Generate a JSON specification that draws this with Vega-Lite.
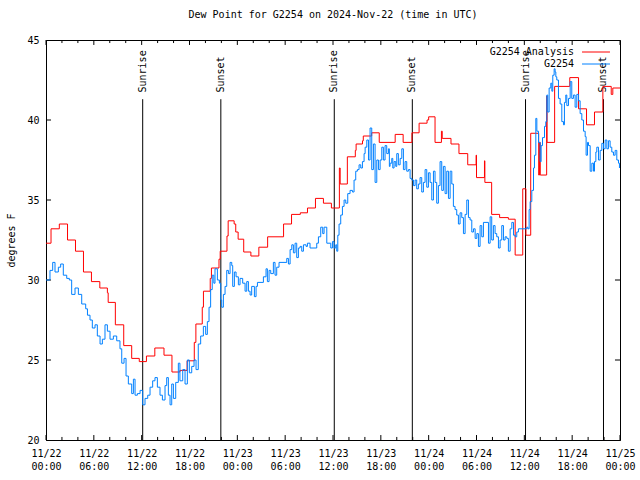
{
  "$schema": "https://vega.github.io/schema/vega-lite/v6.json",
  "width": 574,
  "height": 400,
  "autosize": {"type": "none"},
  "padding": {"left": 46, "top": 40, "right": 20, "bottom": 40},
  "background": "white",
  "title": {"text": "Dew Point for G2254 on 2024-Nov-22 (time in UTC)", "font": "DejaVu Sans Mono", "fontSize": 10, "fontWeight": "normal", "color": "black", "offset": 15},
  "config": {
    "view": {"stroke": "black", "strokeWidth": 1},
    "font": "DejaVu Sans Mono"
  },
  "datasets": {
    "dew": [
      {"series":"G2254 Analysis","hour":0,"value":32.3},
      {"series":"G2254 Analysis","hour":0.63,"value":33.2},
      {"series":"G2254 Analysis","hour":1.67,"value":33.5},
      {"series":"G2254 Analysis","hour":2.7,"value":32.5},
      {"series":"G2254 Analysis","hour":3.7,"value":31.8},
      {"series":"G2254 Analysis","hour":4.7,"value":30.5},
      {"series":"G2254 Analysis","hour":5.7,"value":29.9},
      {"series":"G2254 Analysis","hour":6.75,"value":29.5},
      {"series":"G2254 Analysis","hour":7.7,"value":29.2},
      {"series":"G2254 Analysis","hour":7.8,"value":28.6},
      {"series":"G2254 Analysis","hour":8.7,"value":27.2},
      {"series":"G2254 Analysis","hour":9.75,"value":25.9},
      {"series":"G2254 Analysis","hour":10.75,"value":25.1},
      {"series":"G2254 Analysis","hour":11.7,"value":24.9},
      {"series":"G2254 Analysis","hour":12.6,"value":25.25},
      {"series":"G2254 Analysis","hour":13.65,"value":25.75},
      {"series":"G2254 Analysis","hour":14.8,"value":25.3},
      {"series":"G2254 Analysis","hour":15.8,"value":24.25},
      {"series":"G2254 Analysis","hour":16.8,"value":24.35},
      {"series":"G2254 Analysis","hour":17.7,"value":24.95},
      {"series":"G2254 Analysis","hour":18.6,"value":26.1},
      {"series":"G2254 Analysis","hour":18.8,"value":27.25},
      {"series":"G2254 Analysis","hour":19.6,"value":28.3},
      {"series":"G2254 Analysis","hour":19.75,"value":29.3},
      {"series":"G2254 Analysis","hour":20.6,"value":30.1},
      {"series":"G2254 Analysis","hour":20.75,"value":30.75},
      {"series":"G2254 Analysis","hour":21.7,"value":31.3},
      {"series":"G2254 Analysis","hour":21.85,"value":31.8},
      {"series":"G2254 Analysis","hour":22.7,"value":32.75},
      {"series":"G2254 Analysis","hour":22.85,"value":33.7},
      {"series":"G2254 Analysis","hour":23.6,"value":33.5},
      {"series":"G2254 Analysis","hour":23.8,"value":33.0},
      {"series":"G2254 Analysis","hour":24.1,"value":32.55},
      {"series":"G2254 Analysis","hour":24.8,"value":31.75},
      {"series":"G2254 Analysis","hour":25.7,"value":31.5},
      {"series":"G2254 Analysis","hour":26.7,"value":32.05},
      {"series":"G2254 Analysis","hour":27.8,"value":32.7},
      {"series":"G2254 Analysis","hour":29.8,"value":33.5},
      {"series":"G2254 Analysis","hour":30.8,"value":34.1},
      {"series":"G2254 Analysis","hour":31.9,"value":34.2},
      {"series":"G2254 Analysis","hour":32.8,"value":34.5},
      {"series":"G2254 Analysis","hour":33.8,"value":35.1},
      {"series":"G2254 Analysis","hour":34.8,"value":34.8},
      {"series":"G2254 Analysis","hour":35.8,"value":34.5},
      {"series":"G2254 Analysis","hour":36.8,"value":37.0},
      {"series":"G2254 Analysis","hour":36.9,"value":36.0},
      {"series":"G2254 Analysis","hour":37.8,"value":37.7},
      {"series":"G2254 Analysis","hour":38.8,"value":38.1},
      {"series":"G2254 Analysis","hour":38.9,"value":38.5},
      {"series":"G2254 Analysis","hour":39.7,"value":38.7},
      {"series":"G2254 Analysis","hour":39.8,"value":39.0},
      {"series":"G2254 Analysis","hour":40.85,"value":39.2},
      {"series":"G2254 Analysis","hour":41.8,"value":38.6},
      {"series":"G2254 Analysis","hour":43.8,"value":39.1},
      {"series":"G2254 Analysis","hour":44.8,"value":38.6},
      {"series":"G2254 Analysis","hour":45.9,"value":39.2},
      {"series":"G2254 Analysis","hour":46.8,"value":39.8},
      {"series":"G2254 Analysis","hour":47.8,"value":40.0},
      {"series":"G2254 Analysis","hour":48.0,"value":40.2},
      {"series":"G2254 Analysis","hour":48.8,"value":38.6},
      {"series":"G2254 Analysis","hour":49.6,"value":39.3},
      {"series":"G2254 Analysis","hour":49.7,"value":38.85},
      {"series":"G2254 Analysis","hour":50.8,"value":38.5},
      {"series":"G2254 Analysis","hour":51.8,"value":37.9},
      {"series":"G2254 Analysis","hour":52.9,"value":37.2},
      {"series":"G2254 Analysis","hour":53.95,"value":37.8},
      {"series":"G2254 Analysis","hour":54.0,"value":36.4},
      {"series":"G2254 Analysis","hour":55.0,"value":37.45},
      {"series":"G2254 Analysis","hour":55.05,"value":36.1},
      {"series":"G2254 Analysis","hour":55.9,"value":34.1},
      {"series":"G2254 Analysis","hour":56.9,"value":33.9},
      {"series":"G2254 Analysis","hour":58.0,"value":33.8},
      {"series":"G2254 Analysis","hour":58.85,"value":31.56},
      {"series":"G2254 Analysis","hour":59.8,"value":35.7},
      {"series":"G2254 Analysis","hour":60.2,"value":32.8},
      {"series":"G2254 Analysis","hour":60.8,"value":39.17},
      {"series":"G2254 Analysis","hour":61.8,"value":36.56},
      {"series":"G2254 Analysis","hour":61.9,"value":38.6},
      {"series":"G2254 Analysis","hour":62.0,"value":36.56},
      {"series":"G2254 Analysis","hour":62.8,"value":41.5},
      {"series":"G2254 Analysis","hour":62.85,"value":38.6},
      {"series":"G2254 Analysis","hour":63.8,"value":42.1},
      {"series":"G2254 Analysis","hour":65.7,"value":42.65},
      {"series":"G2254 Analysis","hour":66.8,"value":40.7},
      {"series":"G2254 Analysis","hour":67.8,"value":39.7},
      {"series":"G2254 Analysis","hour":68.8,"value":40.5},
      {"series":"G2254 Analysis","hour":69.85,"value":42.1},
      {"series":"G2254 Analysis","hour":70.9,"value":41.6},
      {"series":"G2254 Analysis","hour":71.1,"value":42.0},
      {"series":"G2254 Analysis","hour":72,"value":42.0},
      {"series":"G2254","hour":0.0,"value":30.0},
      {"series":"G2254","hour":0.5,"value":30.6},
      {"series":"G2254","hour":0.84,"value":31.1},
      {"series":"G2254","hour":1.13,"value":30.5},
      {"series":"G2254","hour":1.55,"value":30.8},
      {"series":"G2254","hour":1.84,"value":31.0},
      {"series":"G2254","hour":2.17,"value":30.3},
      {"series":"G2254","hour":2.6,"value":30.1},
      {"series":"G2254","hour":2.93,"value":30.0},
      {"series":"G2254","hour":3.22,"value":29.1},
      {"series":"G2254","hour":3.64,"value":29.5},
      {"series":"G2254","hour":4.06,"value":29.1},
      {"series":"G2254","hour":4.48,"value":28.5},
      {"series":"G2254","hour":4.98,"value":28.2},
      {"series":"G2254","hour":5.2,"value":27.8},
      {"series":"G2254","hour":5.52,"value":27.5},
      {"series":"G2254","hour":5.81,"value":27.0},
      {"series":"G2254","hour":6.15,"value":27.2},
      {"series":"G2254","hour":6.44,"value":26.5},
      {"series":"G2254","hour":6.78,"value":26.0},
      {"series":"G2254","hour":7.07,"value":26.3},
      {"series":"G2254","hour":7.4,"value":27.2},
      {"series":"G2254","hour":7.7,"value":26.8},
      {"series":"G2254","hour":8.03,"value":26.3},
      {"series":"G2254","hour":8.45,"value":26.5},
      {"series":"G2254","hour":8.87,"value":26.2},
      {"series":"G2254","hour":9.28,"value":25.7},
      {"series":"G2254","hour":9.5,"value":24.8},
      {"series":"G2254","hour":9.79,"value":25.1},
      {"series":"G2254","hour":10.04,"value":24.0},
      {"series":"G2254","hour":10.33,"value":23.5},
      {"series":"G2254","hour":10.75,"value":22.9},
      {"series":"G2254","hour":10.96,"value":23.8},
      {"series":"G2254","hour":11.17,"value":22.8},
      {"series":"G2254","hour":11.46,"value":22.9},
      {"series":"G2254","hour":11.8,"value":23.1},
      {"series":"G2254","hour":12.13,"value":22.2},
      {"series":"G2254","hour":12.42,"value":22.6},
      {"series":"G2254","hour":12.76,"value":22.8},
      {"series":"G2254","hour":13.05,"value":23.3},
      {"series":"G2254","hour":13.38,"value":23.7},
      {"series":"G2254","hour":13.67,"value":23.9},
      {"series":"G2254","hour":13.97,"value":23.3},
      {"series":"G2254","hour":14.3,"value":22.8},
      {"series":"G2254","hour":14.6,"value":22.5},
      {"series":"G2254","hour":14.93,"value":23.4},
      {"series":"G2254","hour":15.14,"value":23.9},
      {"series":"G2254","hour":15.35,"value":22.8},
      {"series":"G2254","hour":15.56,"value":22.2},
      {"series":"G2254","hour":15.77,"value":23.5},
      {"series":"G2254","hour":15.98,"value":22.6},
      {"series":"G2254","hour":16.27,"value":23.6},
      {"series":"G2254","hour":16.6,"value":24.8},
      {"series":"G2254","hour":16.8,"value":23.7},
      {"series":"G2254","hour":17.15,"value":24.4},
      {"series":"G2254","hour":17.44,"value":23.5},
      {"series":"G2254","hour":17.73,"value":25.0},
      {"series":"G2254","hour":17.98,"value":24.2},
      {"series":"G2254","hour":18.28,"value":24.6},
      {"series":"G2254","hour":18.57,"value":25.0},
      {"series":"G2254","hour":18.82,"value":24.4},
      {"series":"G2254","hour":19.1,"value":26.0},
      {"series":"G2254","hour":19.4,"value":26.5},
      {"series":"G2254","hour":19.74,"value":27.1},
      {"series":"G2254","hour":20.03,"value":26.6},
      {"series":"G2254","hour":20.24,"value":27.4},
      {"series":"G2254","hour":20.45,"value":28.3},
      {"series":"G2254","hour":20.65,"value":29.4},
      {"series":"G2254","hour":20.85,"value":30.3},
      {"series":"G2254","hour":21.05,"value":29.8},
      {"series":"G2254","hour":21.2,"value":30.7},
      {"series":"G2254","hour":21.5,"value":30.0},
      {"series":"G2254","hour":21.75,"value":29.8},
      {"series":"G2254","hour":21.92,"value":28.75},
      {"series":"G2254","hour":22.04,"value":28.3},
      {"series":"G2254","hour":22.25,"value":29.1},
      {"series":"G2254","hour":22.46,"value":29.6},
      {"series":"G2254","hour":22.67,"value":30.6},
      {"series":"G2254","hour":22.88,"value":30.4},
      {"series":"G2254","hour":23.09,"value":31.1},
      {"series":"G2254","hour":23.3,"value":30.9},
      {"series":"G2254","hour":23.42,"value":29.6},
      {"series":"G2254","hour":23.63,"value":30.5},
      {"series":"G2254","hour":23.84,"value":30.2},
      {"series":"G2254","hour":24.13,"value":29.7},
      {"series":"G2254","hour":24.34,"value":30.1},
      {"series":"G2254","hour":24.67,"value":29.8},
      {"series":"G2254","hour":24.97,"value":29.3},
      {"series":"G2254","hour":25.18,"value":29.9},
      {"series":"G2254","hour":25.39,"value":29.3},
      {"series":"G2254","hour":25.6,"value":29.06},
      {"series":"G2254","hour":25.8,"value":29.6},
      {"series":"G2254","hour":26.14,"value":28.96},
      {"series":"G2254","hour":26.35,"value":29.6},
      {"series":"G2254","hour":26.52,"value":29.85},
      {"series":"G2254","hour":27.27,"value":30.2},
      {"series":"G2254","hour":27.6,"value":30.7},
      {"series":"G2254","hour":27.77,"value":29.9},
      {"series":"G2254","hour":27.98,"value":30.6},
      {"series":"G2254","hour":28.19,"value":30.4},
      {"series":"G2254","hour":28.52,"value":31.1},
      {"series":"G2254","hour":28.73,"value":30.3},
      {"series":"G2254","hour":28.94,"value":30.8},
      {"series":"G2254","hour":29.23,"value":31.1},
      {"series":"G2254","hour":30.2,"value":31.35},
      {"series":"G2254","hour":30.41,"value":31.0},
      {"series":"G2254","hour":30.62,"value":31.9},
      {"series":"G2254","hour":30.83,"value":32.2},
      {"series":"G2254","hour":31.03,"value":31.7},
      {"series":"G2254","hour":31.24,"value":32.3},
      {"series":"G2254","hour":31.45,"value":31.4},
      {"series":"G2254","hour":31.66,"value":32.0},
      {"series":"G2254","hour":31.87,"value":32.1},
      {"series":"G2254","hour":32.08,"value":31.8},
      {"series":"G2254","hour":32.29,"value":32.2},
      {"series":"G2254","hour":32.62,"value":32.1},
      {"series":"G2254","hour":32.79,"value":32.3},
      {"series":"G2254","hour":33.12,"value":32.0},
      {"series":"G2254","hour":33.96,"value":32.3},
      {"series":"G2254","hour":34.17,"value":32.7},
      {"series":"G2254","hour":34.46,"value":33.3},
      {"series":"G2254","hour":34.71,"value":32.9},
      {"series":"G2254","hour":34.88,"value":33.3},
      {"series":"G2254","hour":35.22,"value":32.3},
      {"series":"G2254","hour":35.72,"value":32.0},
      {"series":"G2254","hour":35.93,"value":32.4},
      {"series":"G2254","hour":36.14,"value":32.0},
      {"series":"G2254","hour":36.35,"value":32.2},
      {"series":"G2254","hour":36.47,"value":31.8},
      {"series":"G2254","hour":36.6,"value":32.8},
      {"series":"G2254","hour":36.76,"value":33.5},
      {"series":"G2254","hour":36.97,"value":34.06},
      {"series":"G2254","hour":37.18,"value":34.6},
      {"series":"G2254","hour":37.39,"value":35.0},
      {"series":"G2254","hour":37.6,"value":34.8},
      {"series":"G2254","hour":37.85,"value":35.4},
      {"series":"G2254","hour":38.14,"value":35.6},
      {"series":"G2254","hour":38.44,"value":35.5},
      {"series":"G2254","hour":38.64,"value":36.25},
      {"series":"G2254","hour":38.85,"value":36.8},
      {"series":"G2254","hour":39.06,"value":36.9},
      {"series":"G2254","hour":39.27,"value":37.2},
      {"series":"G2254","hour":39.48,"value":37.0},
      {"series":"G2254","hour":39.69,"value":37.4},
      {"series":"G2254","hour":39.9,"value":37.9},
      {"series":"G2254","hour":40.03,"value":38.3},
      {"series":"G2254","hour":40.24,"value":38.75},
      {"series":"G2254","hour":40.45,"value":37.5},
      {"series":"G2254","hour":40.65,"value":39.5},
      {"series":"G2254","hour":40.86,"value":36.9},
      {"series":"G2254","hour":41.07,"value":38.5},
      {"series":"G2254","hour":41.28,"value":36.1},
      {"series":"G2254","hour":41.49,"value":37.5},
      {"series":"G2254","hour":41.7,"value":36.9},
      {"series":"G2254","hour":41.91,"value":37.5},
      {"series":"G2254","hour":42.12,"value":38.3},
      {"series":"G2254","hour":42.32,"value":37.5},
      {"series":"G2254","hour":42.53,"value":38.4},
      {"series":"G2254","hour":42.74,"value":37.9},
      {"series":"G2254","hour":42.95,"value":38.2},
      {"series":"G2254","hour":43.07,"value":37.1},
      {"series":"G2254","hour":43.16,"value":37.3},
      {"series":"G2254","hour":43.37,"value":37.6},
      {"series":"G2254","hour":43.5,"value":37.0},
      {"series":"G2254","hour":43.66,"value":37.4},
      {"series":"G2254","hour":43.87,"value":37.1},
      {"series":"G2254","hour":44.0,"value":37.9},
      {"series":"G2254","hour":44.2,"value":37.2},
      {"series":"G2254","hour":44.42,"value":37.6},
      {"series":"G2254","hour":44.63,"value":38.2},
      {"series":"G2254","hour":44.83,"value":36.9},
      {"series":"G2254","hour":45.04,"value":37.4},
      {"series":"G2254","hour":45.25,"value":36.8},
      {"series":"G2254","hour":45.46,"value":36.9},
      {"series":"G2254","hour":45.67,"value":36.35},
      {"series":"G2254","hour":45.88,"value":36.25},
      {"series":"G2254","hour":46.09,"value":35.9},
      {"series":"G2254","hour":46.3,"value":36.25},
      {"series":"G2254","hour":46.5,"value":35.7},
      {"series":"G2254","hour":46.71,"value":36.0},
      {"series":"G2254","hour":46.92,"value":36.4},
      {"series":"G2254","hour":47.13,"value":35.5},
      {"series":"G2254","hour":47.34,"value":36.1},
      {"series":"G2254","hour":47.55,"value":36.9},
      {"series":"G2254","hour":47.76,"value":35.8},
      {"series":"G2254","hour":47.97,"value":36.7},
      {"series":"G2254","hour":48.18,"value":36.1},
      {"series":"G2254","hour":48.39,"value":35.0},
      {"series":"G2254","hour":48.6,"value":36.8},
      {"series":"G2254","hour":48.8,"value":36.1},
      {"series":"G2254","hour":49.01,"value":34.8},
      {"series":"G2254","hour":49.22,"value":35.9},
      {"series":"G2254","hour":49.43,"value":37.4},
      {"series":"G2254","hour":49.64,"value":35.6},
      {"series":"G2254","hour":49.85,"value":37.1},
      {"series":"G2254","hour":50.06,"value":35.4},
      {"series":"G2254","hour":50.27,"value":36.8},
      {"series":"G2254","hour":50.48,"value":35.1},
      {"series":"G2254","hour":50.69,"value":36.8},
      {"series":"G2254","hour":50.9,"value":36.0},
      {"series":"G2254","hour":51.1,"value":34.6},
      {"series":"G2254","hour":51.31,"value":34.4},
      {"series":"G2254","hour":51.52,"value":34.06},
      {"series":"G2254","hour":51.73,"value":33.5},
      {"series":"G2254","hour":51.94,"value":34.2},
      {"series":"G2254","hour":52.15,"value":33.9},
      {"series":"G2254","hour":52.36,"value":32.9},
      {"series":"G2254","hour":52.57,"value":34.1},
      {"series":"G2254","hour":52.78,"value":35.0},
      {"series":"G2254","hour":52.99,"value":33.9},
      {"series":"G2254","hour":53.2,"value":33.75},
      {"series":"G2254","hour":53.41,"value":33.0},
      {"series":"G2254","hour":53.62,"value":33.2},
      {"series":"G2254","hour":53.83,"value":32.6},
      {"series":"G2254","hour":54.04,"value":32.9},
      {"series":"G2254","hour":54.24,"value":32.1},
      {"series":"G2254","hour":54.45,"value":33.4},
      {"series":"G2254","hour":54.66,"value":32.7},
      {"series":"G2254","hour":54.87,"value":33.6},
      {"series":"G2254","hour":55.5,"value":32.3},
      {"series":"G2254","hour":55.71,"value":33.95},
      {"series":"G2254","hour":55.91,"value":32.5},
      {"series":"G2254","hour":56.12,"value":33.4},
      {"series":"G2254","hour":56.33,"value":32.9},
      {"series":"G2254","hour":56.54,"value":32.7},
      {"series":"G2254","hour":56.75,"value":32.0},
      {"series":"G2254","hour":56.96,"value":32.5},
      {"series":"G2254","hour":57.17,"value":33.4},
      {"series":"G2254","hour":57.38,"value":32.5},
      {"series":"G2254","hour":57.59,"value":32.7},
      {"series":"G2254","hour":57.8,"value":32.6},
      {"series":"G2254","hour":58.0,"value":31.8},
      {"series":"G2254","hour":58.22,"value":33.2},
      {"series":"G2254","hour":58.43,"value":33.6},
      {"series":"G2254","hour":58.64,"value":32.8},
      {"series":"G2254","hour":58.85,"value":32.7},
      {"series":"G2254","hour":59.05,"value":33.0},
      {"series":"G2254","hour":59.26,"value":33.2},
      {"series":"G2254","hour":60.31,"value":33.3},
      {"series":"G2254","hour":60.44,"value":33.2},
      {"series":"G2254","hour":60.6,"value":34.4},
      {"series":"G2254","hour":60.73,"value":34.9},
      {"series":"G2254","hour":60.94,"value":35.6},
      {"series":"G2254","hour":61.15,"value":37.0},
      {"series":"G2254","hour":61.27,"value":37.8},
      {"series":"G2254","hour":61.44,"value":40.1},
      {"series":"G2254","hour":61.57,"value":39.3},
      {"series":"G2254","hour":61.78,"value":38.6},
      {"series":"G2254","hour":61.98,"value":37.4},
      {"series":"G2254","hour":62.11,"value":38.4},
      {"series":"G2254","hour":62.28,"value":38.9},
      {"series":"G2254","hour":62.53,"value":39.6},
      {"series":"G2254","hour":62.69,"value":39.9},
      {"series":"G2254","hour":62.82,"value":41.56},
      {"series":"G2254","hour":62.94,"value":40.5},
      {"series":"G2254","hour":63.11,"value":42.0},
      {"series":"G2254","hour":63.32,"value":42.3},
      {"series":"G2254","hour":63.45,"value":41.8},
      {"series":"G2254","hour":63.57,"value":42.8},
      {"series":"G2254","hour":63.74,"value":43.2},
      {"series":"G2254","hour":63.86,"value":43.0},
      {"series":"G2254","hour":63.95,"value":42.7},
      {"series":"G2254","hour":64.07,"value":42.5},
      {"series":"G2254","hour":64.28,"value":41.35},
      {"series":"G2254","hour":64.49,"value":41.0},
      {"series":"G2254","hour":64.7,"value":39.9},
      {"series":"G2254","hour":64.91,"value":39.7},
      {"series":"G2254","hour":65.03,"value":41.1},
      {"series":"G2254","hour":65.2,"value":41.56},
      {"series":"G2254","hour":65.33,"value":40.9},
      {"series":"G2254","hour":65.54,"value":41.35},
      {"series":"G2254","hour":65.75,"value":42.4},
      {"series":"G2254","hour":65.95,"value":41.35},
      {"series":"G2254","hour":66.16,"value":41.56},
      {"series":"G2254","hour":66.37,"value":40.8},
      {"series":"G2254","hour":66.58,"value":41.6},
      {"series":"G2254","hour":66.79,"value":41.2},
      {"series":"G2254","hour":67.0,"value":40.4},
      {"series":"G2254","hour":67.21,"value":40.0},
      {"series":"G2254","hour":67.42,"value":39.3},
      {"series":"G2254","hour":67.63,"value":38.96},
      {"series":"G2254","hour":67.75,"value":37.8},
      {"series":"G2254","hour":67.92,"value":38.6},
      {"series":"G2254","hour":68.05,"value":38.4},
      {"series":"G2254","hour":68.26,"value":36.8},
      {"series":"G2254","hour":68.47,"value":37.3},
      {"series":"G2254","hour":68.68,"value":36.8},
      {"series":"G2254","hour":68.8,"value":37.4},
      {"series":"G2254","hour":68.97,"value":38.0},
      {"series":"G2254","hour":69.09,"value":38.3},
      {"series":"G2254","hour":69.3,"value":37.5},
      {"series":"G2254","hour":69.51,"value":38.1},
      {"series":"G2254","hour":69.72,"value":38.54},
      {"series":"G2254","hour":69.93,"value":38.2},
      {"series":"G2254","hour":70.14,"value":38.75},
      {"series":"G2254","hour":70.35,"value":38.2},
      {"series":"G2254","hour":70.55,"value":38.7},
      {"series":"G2254","hour":70.76,"value":38.3},
      {"series":"G2254","hour":70.97,"value":38.0},
      {"series":"G2254","hour":71.18,"value":37.8},
      {"series":"G2254","hour":71.39,"value":38.1},
      {"series":"G2254","hour":71.6,"value":37.5},
      {"series":"G2254","hour":71.81,"value":37.3},
      {"series":"G2254","hour":71.93,"value":37.0}
    ],
    "sun": [
      {"hour": 12.13, "event": "Sunrise"},
      {"hour": 21.93, "event": "Sunset"},
      {"hour": 36.16, "event": "Sunrise"},
      {"hour": 45.95, "event": "Sunset"},
      {"hour": 60.15, "event": "Sunrise"},
      {"hour": 69.93, "event": "Sunset"}
    ],
    "xmajor": [{"hour":0},{"hour":6},{"hour":12},{"hour":18},{"hour":24},{"hour":30},{"hour":36},{"hour":42},{"hour":48},{"hour":54},{"hour":60},{"hour":66},{"hour":72}],
    "xminor": [{"hour":2},{"hour":4},{"hour":8},{"hour":10},{"hour":14},{"hour":16},{"hour":20},{"hour":22},{"hour":26},{"hour":28},{"hour":32},{"hour":34},{"hour":38},{"hour":40},{"hour":44},{"hour":46},{"hour":50},{"hour":52},{"hour":56},{"hour":58},{"hour":62},{"hour":64},{"hour":68},{"hour":70}],
    "yticks": [{"value":25},{"value":30},{"value":35},{"value":40}]
  },
  "layer": [
    {
      "data": {"name": "sun"},
      "mark": {"type": "rule", "color": "black", "strokeWidth": 1},
      "encoding": {
        "x": {"field": "hour", "type": "quantitative"},
        "y": {"datum": 20, "type": "quantitative"},
        "y2": {"datum": 41.3}
      }
    },
    {
      "data": {"name": "sun"},
      "mark": {"type": "text", "angle": 270, "align": "left", "baseline": "middle", "font": "DejaVu Sans Mono", "fontSize": 10, "color": "black"},
      "encoding": {
        "x": {"field": "hour", "type": "quantitative"},
        "y": {"datum": 41.72, "type": "quantitative"},
        "text": {"field": "event"}
      }
    },
    {
      "data": {"name": "xmajor"},
      "mark": {"type": "rule", "color": "black", "strokeWidth": 1},
      "encoding": {
        "x": {"field": "hour", "type": "quantitative"},
        "y": {"datum": 20, "type": "quantitative"},
        "y2": {"datum": 20.31}
      }
    },
    {
      "data": {"name": "xmajor"},
      "mark": {"type": "rule", "color": "black", "strokeWidth": 1},
      "encoding": {
        "x": {"field": "hour", "type": "quantitative"},
        "y": {"datum": 45, "type": "quantitative"},
        "y2": {"datum": 44.69}
      }
    },
    {
      "data": {"name": "xminor"},
      "mark": {"type": "rule", "color": "black", "strokeWidth": 1},
      "encoding": {
        "x": {"field": "hour", "type": "quantitative"},
        "y": {"datum": 20, "type": "quantitative"},
        "y2": {"datum": 20.19}
      }
    },
    {
      "data": {"name": "xminor"},
      "mark": {"type": "rule", "color": "black", "strokeWidth": 1},
      "encoding": {
        "x": {"field": "hour", "type": "quantitative"},
        "y": {"datum": 45, "type": "quantitative"},
        "y2": {"datum": 44.81}
      }
    },
    {
      "data": {"name": "yticks"},
      "mark": {"type": "rule", "color": "black", "strokeWidth": 1},
      "encoding": {
        "y": {"field": "value", "type": "quantitative"},
        "x": {"datum": 0, "type": "quantitative"},
        "x2": {"datum": 0.63}
      }
    },
    {
      "data": {"name": "yticks"},
      "mark": {"type": "rule", "color": "black", "strokeWidth": 1},
      "encoding": {
        "y": {"field": "value", "type": "quantitative"},
        "x": {"datum": 72, "type": "quantitative"},
        "x2": {"datum": 71.37}
      }
    },
    {
      "data": {"name": "dew"},
      "mark": {"type": "line", "interpolate": "step-after", "strokeWidth": 1},
      "encoding": {
        "x": {"field": "hour", "type": "quantitative",
          "scale": {"domain": [0, 72], "nice": false, "zero": false},
          "axis": {"values": [0,6,12,18,24,30,36,42,48,54,60,66,72], "title": null, "ticks": false, "grid": false,
            "domainColor": "black", "domainWidth": 1,
            "labelExpr": "['11/' + (22 + floor(datum.value / 24)), (datum.value % 24 < 10 ? '0' : '') + (datum.value % 24) + ':00']",
            "labelFont": "DejaVu Sans Mono", "labelFontSize": 10, "labelColor": "black", "labelPadding": 8, "labelLineHeight": 13,
            "labelBaseline": "top", "labelFlush": false, "labelOverlap": false}},
        "y": {"field": "value", "type": "quantitative",
          "scale": {"domain": [20, 45], "nice": false, "zero": false},
          "axis": {"values": [20,25,30,35,40,45], "title": "degrees F", "ticks": false, "grid": false,
            "domainColor": "black", "domainWidth": 1,
            "labelFont": "DejaVu Sans Mono", "labelFontSize": 10, "labelColor": "black", "labelPadding": 7,
            "titleFont": "DejaVu Sans Mono", "titleFontSize": 10, "titleFontWeight": "normal", "titleColor": "black",
            "titleX": -35, "titleY": 200, "titleAngle": 270, "titleAlign": "center", "titleBaseline": "middle"}},
        "color": {"field": "series", "type": "nominal",
          "scale": {"domain": ["G2254 Analysis", "G2254"], "range": ["#ff0000", "#0080ff"]},
          "legend": {"title": null, "orient": "none", "legendX": 543, "legendY": 5, "symbolType": "M-2.15,0H2.15", "symbolSize": 169,
            "symbolStrokeWidth": 1, "labelAlign": "right", "labelOffset": -29, "labelFont": "DejaVu Sans Mono",
            "labelFontSize": 10, "labelColor": "black", "rowPadding": 0, "padding": 0}}
      }
    }
  ]
}
